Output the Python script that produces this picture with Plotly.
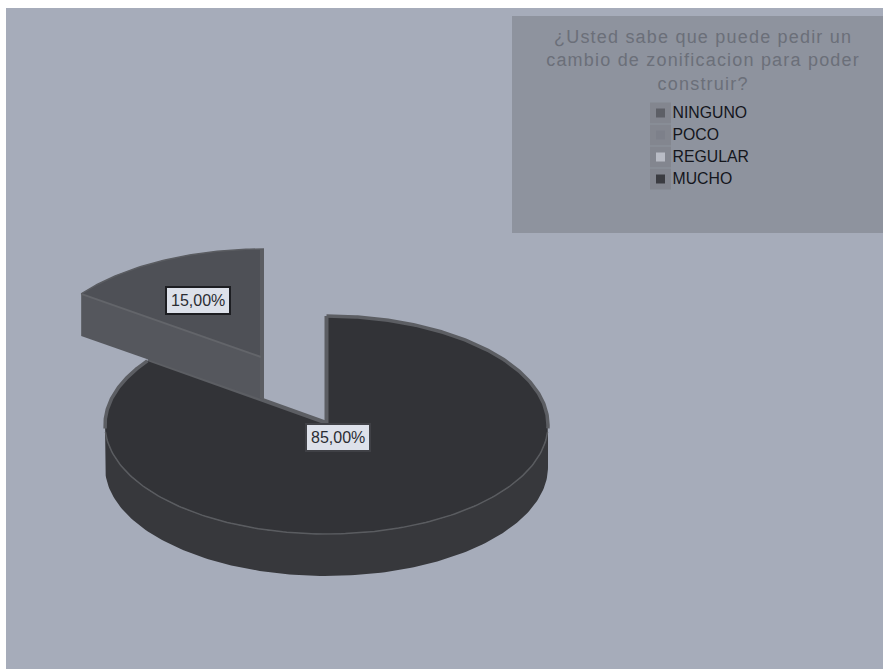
import numpy as np
import plotly.graph_objects as go

# Survey results
categories = ["NINGUNO", "POCO", "REGULAR", "MUCHO"]
shares = [0.0, 15.0, 0.0, 85.0]
share_labels = ["15,00%", "85,00%"]
swatch_colors = ["#5d5f66", "#7d808a", "#b9bcc5", "#3b3c41"]
title_lines = ["¿Usted sabe que puede pedir un", "cambio de zonificacion para poder", "construir?"]

# Pie geometry, in page pixels
CX, CY, RX, RY, DEPTH = 326.5, 425.0, 221.5, 109.0, 42.0
EXPLODE_X, EXPLODE_Y = -62.5, -67.0
SMALL_RX = 226.0

BG = "#a6acba"
PANEL = "#8e939e"
RIM = "#5c5e63"
BIG_TOP, BIG_SIDE = "#323337", "#37383c"
SMALL_TOP, SMALL_FRONT, SMALL_EDGE = "#4e5056", "#55575d", "#63656a"


def arc(f0, f1, cx=CX, cy=CY, rx=RX, n=160):
    """Points of the ellipse between two clockwise fractions measured from 12 o'clock."""
    a = 2 * np.pi * np.linspace(f0, f1, n)
    return cx + rx * np.sin(a), cy - RY * np.cos(a)


def poly(x, y, fill):
    return go.Scatter(x=list(x), y=list(y), mode="lines", fill="toself", fillcolor=fill,
                      line=dict(width=0, color=fill), hoverinfo="skip")


def stroke(x, y, color, width):
    return go.Scatter(x=list(x), y=list(y), mode="lines", line=dict(color=color, width=width),
                      hoverinfo="skip")


small = shares[1] / sum(shares)
big = shares[3] / sum(shares)
fig = go.Figure()

# Large slice: outer wall, inner cut wall, top face, rims
x, y = arc(0.25, 0.75)
fig.add_trace(poly(np.r_[x, x[::-1]], np.r_[y, y[::-1] + DEPTH], BIG_SIDE))
bx, by = arc(0, big)
fig.add_trace(stroke([bx[-1], CX], [by[-1], CY], RIM, 8))
fig.add_trace(poly(np.r_[CX, bx, CX], np.r_[CY, by, CY], BIG_TOP))
fx, fy = arc(0.26, 0.74)
fig.add_trace(stroke(fx, fy, "#5a5c60", 1.5))
fig.add_trace(stroke(*arc(0, 0.255), RIM, 3.5))
fig.add_trace(stroke(*arc(0.745, big), RIM, 3.5))
fig.add_trace(stroke([CX, CX], [by[0], CY], RIM, 4))

# Small slice pulled away from the centre
sx0, sy0 = CX + EXPLODE_X, CY + EXPLODE_Y
sx, sy = arc(big, 1.0, sx0, sy0, SMALL_RX, 60)
fig.add_trace(poly([sx[0], sx0, sx0, sx[0]], [sy[0], sy0, sy0 + DEPTH, sy[0] + DEPTH], SMALL_FRONT))
fig.add_trace(poly(np.r_[sx0, sx, sx0], np.r_[sy0, sy, sy0], SMALL_TOP))
fig.add_trace(poly([sx0 - 4, sx0, sx0, sx0 - 4], [sy[-1], sy[-1], sy0 + DEPTH, sy0 + DEPTH - 2], "#5b5d62"))
fig.add_trace(stroke([sx[0], sx0 - 3], [sy[0], sy0 - 1], SMALL_EDGE, 2))
fig.add_trace(stroke(sx, sy, "#5a5c61", 1.5))

# Percentage labels
for text, lx, ly, border, bw in [(share_labels[0], 198, 300.5, "#1d1e22", 2),
                                 (share_labels[1], 338, 437.5, "#404146", 2)]:
    fig.add_annotation(x=lx, y=ly, text=text, showarrow=False, bgcolor="#dde1ea", bordercolor=border,
                       borderwidth=bw, borderpad=4, font=dict(family="Liberation Sans", size=16, color="#2b2d33"))

# Legend swatches and names
legend_y = [113, 135, 157, 179]
fig.add_trace(go.Scatter(x=[660.5] * 4, y=legend_y, mode="markers", hoverinfo="skip",
                         marker=dict(symbol="square", size=21, color="#83868f", line=dict(width=0))))
fig.add_trace(go.Scatter(x=[660.5] * 4, y=legend_y, mode="markers", hoverinfo="skip",
                         marker=dict(symbol="square", size=9, color=swatch_colors, line=dict(width=0))))
fig.add_trace(go.Scatter(x=[672.5] * 4, y=[v + 1 for v in legend_y], mode="text", text=categories,
                         textposition="middle right", hoverinfo="skip",
                         textfont=dict(family="Liberation Sans", size=15.8, color="#14161c")))

# Legend heading
fig.add_annotation(x=703, y=60, text="<br>".join(title_lines), showarrow=False, align="center",
                   font=dict(family="Liberation Sans", size=18, color="#6b6f79"), name="heading")

fig.update_layout(
    width=883, height=669, autosize=False, margin=dict(l=0, r=0, t=0, b=0),
    paper_bgcolor="white", plot_bgcolor="white", showlegend=False,
    xaxis=dict(range=[0, 883], visible=False, fixedrange=True),
    yaxis=dict(range=[669, 0], visible=False, fixedrange=True),
    shapes=[
        dict(type="rect", x0=6, x1=883, y0=8, y1=669, fillcolor=BG, line_width=0, layer="below"),
        dict(type="rect", x0=512, x1=883, y0=16, y1=233, fillcolor=PANEL, line_width=0, layer="below"),
    ],
)

# Wider tracking on the heading text
spacing_js = """
document.querySelectorAll('.annotation-text').forEach(function (t) {
  if (t.textContent.indexOf('Usted') >= 0) { t.style.letterSpacing = '1.2px'; }
});
"""
fig.write_html("out.html", config={"displayModeBar": False}, post_script=spacing_js)
